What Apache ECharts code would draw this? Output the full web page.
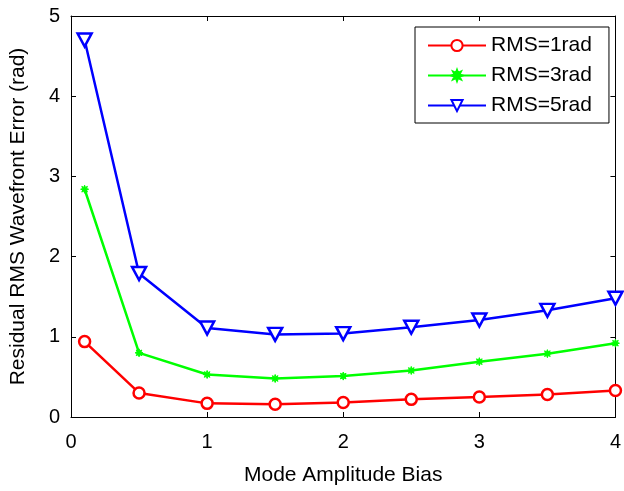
<!DOCTYPE html>
<html>
<head>
<meta charset="utf-8">
<script src="https://cdn.jsdelivr.net/npm/echarts@6/dist/echarts.min.js"></script>
<style>
  html, body { margin: 0; padding: 0; background: #fff; }
  #chart { width: 624px; height: 491px; }
</style>
</head>
<body>
<div id="chart"></div>
<script>
// Mode amplitude bias values (x) and residual RMS error for each input RMS level
const biasValues = [0.1, 0.5, 1, 1.5, 2, 2.5, 3, 3.5, 4];
const rms1rad = [0.94, 0.30, 0.17, 0.16, 0.18, 0.22, 0.25, 0.28, 0.33];
const rms3rad = [2.84, 0.80, 0.53, 0.48, 0.51, 0.58, 0.69, 0.79, 0.92];
const rms5rad = [4.70, 1.79, 1.11, 1.03, 1.04, 1.12, 1.21, 1.33, 1.48];
const seriesNames = ['RMS=1rad', 'RMS=3rad', 'RMS=5rad'];
const xTicks = [0, 1, 2, 3, 4];
const yTicks = [0, 1, 2, 3, 4, 5];

const FONT = '"Liberation Sans", Arial, Helvetica, sans-serif';
// chunky eight-point asterisk marker
const asterisk = 'path://M10,0 L4.6,1.9 L7.07,7.07 L1.9,4.6 L0,10 L-1.9,4.6 L-7.07,7.07 L-4.6,1.9 L-10,0 L-4.6,-1.9 L-7.07,-7.07 L-1.9,-4.6 L0,-10 L1.9,-4.6 L7.07,-7.07 L4.6,-1.9 Z';

const pairs = vals => biasValues.map((x, i) => [x, vals[i]]);

const tickStyle = { show: true, inside: true, length: 5, lineStyle: { color: '#000', width: 1 } };
const lineStyleAxis = { show: true, onZero: false, lineStyle: { color: '#000', width: 1 } };

const xMin = xTicks[0], xMax = xTicks[xTicks.length - 1];
const yMin = yTicks[0], yMax = yTicks[yTicks.length - 1];

const chart = echarts.init(document.getElementById('chart'), null, { renderer: 'canvas' });
chart.setOption({
  animation: false,
  backgroundColor: '#fff',
  grid: { left: 69, right: 7, top: 16, bottom: 69, containLabel: false },
  xAxis: [
    {
      type: 'value', min: xMin, max: xMax, interval: 1, position: 'bottom',
      name: 'Mode Amplitude Bias', nameLocation: 'middle', nameGap: 48,
      nameTextStyle: { fontFamily: FONT, fontSize: 21, color: '#000' },
      axisLine: lineStyleAxis, axisTick: tickStyle, splitLine: { show: false },
      axisLabel: { fontFamily: FONT, fontSize: 20, color: '#000', margin: 15 }
    },
    {
      type: 'value', min: xMin, max: xMax, interval: 1, position: 'top',
      axisLine: lineStyleAxis, axisTick: tickStyle, splitLine: { show: false },
      axisLabel: { show: false }
    }
  ],
  yAxis: [
    {
      type: 'value', min: yMin, max: yMax, interval: 1, position: 'left',
      name: 'Residual RMS Wavefront Error (rad)', nameLocation: 'middle', nameGap: 42,
      nameTextStyle: { fontFamily: FONT, fontSize: 21, color: '#000' },
      axisLine: lineStyleAxis, axisTick: tickStyle, splitLine: { show: false },
      axisLabel: { fontFamily: FONT, fontSize: 20, color: '#000', margin: 11 }
    },
    {
      type: 'value', min: yMin, max: yMax, interval: 1, position: 'right',
      axisLine: lineStyleAxis, axisTick: tickStyle, splitLine: { show: false },
      axisLabel: { show: false }
    }
  ],
  legend: {
    orient: 'vertical', left: 415, top: 27,
    padding: [8, 17, 7, 12],
    itemWidth: 58, itemHeight: 14, itemGap: 9,
    borderColor: '#000', borderWidth: 1, backgroundColor: '#fff',
    textStyle: { fontFamily: FONT, fontSize: 21, color: '#000', lineHeight: 21 },
    data: seriesNames
  },
  series: [
    {
      name: seriesNames[0], type: 'line', data: pairs(rms1rad),
      xAxisIndex: 0, yAxisIndex: 0,
      lineStyle: { color: '#ff0000', width: 2.5 },
      itemStyle: { color: '#fff', borderColor: '#ff0000', borderWidth: 2.5 },
      symbol: 'circle', symbolSize: 11, color: '#ff0000'
    },
    {
      name: seriesNames[1], type: 'line', data: pairs(rms3rad),
      xAxisIndex: 0, yAxisIndex: 0,
      lineStyle: { color: '#00ff00', width: 2.5 },
      itemStyle: { color: '#00ff00', borderColor: '#00ff00', borderWidth: 1 },
      symbol: asterisk, symbolSize: 8, color: '#00ff00'
    },
    {
      name: seriesNames[2], type: 'line', data: pairs(rms5rad),
      xAxisIndex: 0, yAxisIndex: 0,
      lineStyle: { color: '#0000ff', width: 2.5 },
      itemStyle: { color: '#fff', borderColor: '#0000ff', borderWidth: 2.5 },
      symbol: 'triangle', symbolRotate: 180, symbolSize: [14, 13], color: '#0000ff'
    }
  ]
});
</script>
</body>
</html>
